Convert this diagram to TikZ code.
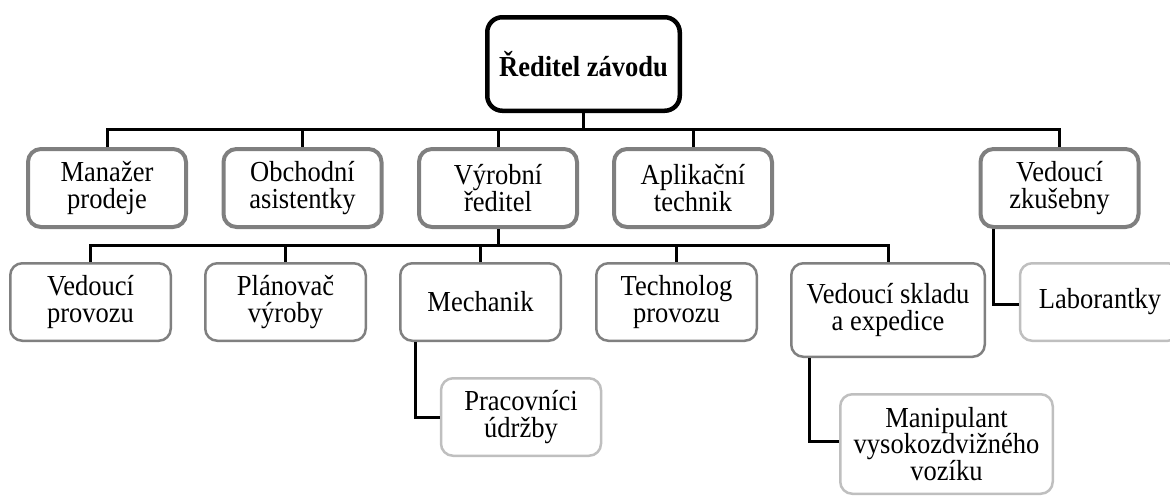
\documentclass[tikz,border=0pt]{standalone}
\usepackage{fontspec}
\setmainfont{Liberation Serif}[FakeStretch=0.915]
\definecolor{grayA}{HTML}{7F7F7F}
\definecolor{grayB}{HTML}{808080}
\definecolor{grayC}{HTML}{BFBFBF}
\tikzset{
  every node/.style={font=\fontsize{29}{26.5}\selectfont, align=center, inner sep=0pt},
  topbox/.style={draw=black, line width=4.5pt, rounded corners=15pt, minimum width=192.5pt, minimum height=93.5pt, font=\fontsize{29}{26.5}\selectfont\bfseries},
  lvone/.style={draw=grayA, line width=4pt, rounded corners=13pt, minimum width=158pt, minimum height=78pt},
  lvtwo/.style={draw=grayB, line width=2.5pt, rounded corners=12pt, minimum width=160.5pt, minimum height=77.5pt},
  lvthree/.style={draw=grayC, line width=2.5pt, rounded corners=12pt, minimum width=160pt, minimum height=77.5pt},
  conn/.style={draw=black, line width=3pt, line join=miter},
}
\begin{document}
\begin{tikzpicture}[x=1pt, y=-1pt]
\useasboundingbox (0,0) rectangle (1170,496);
% top
\node[topbox] (top) at (583.5,64) {Ředitel závodu};
% level 1
\node[lvone] (man) at (107,188) {Manažer\\prodeje};
\node[lvone] (obc) at (302.5,188) {Obchodní\\asistentky};
\node[lvone] (vyr) at (498,188) {Výrobní\\ředitel};
\node[lvone] (apl) at (693,188) {Aplikační\\technik};
\node[lvone] (zku) at (1059.5,188) {Vedoucí\\zkušebny};
% level 2
\node[lvtwo] (vp) at (90.5,302) {Vedoucí\\provozu};
\node[lvtwo] (pl) at (285.5,302) {Plánovač\\výroby};
\node[lvtwo] (mech) at (480.5,302) {Mechanik};
\node[lvtwo] (tech) at (676.5,302) {Technolog\\provozu};
\node[lvtwo, minimum width=193.5pt, minimum height=93.5pt] (skl) at (888,310) {Vedoucí skladu\\a expedice};
% level 3
\node[lvthree] (prac) at (521,417) {Pracovníci\\údržby};
\node[lvthree, minimum width=212.5pt, minimum height=99.5pt] (vzv) at (946.5,444) {Manipulant\\vysokozdvižného\\vozíku};
\node[lvthree] (lab) at (1100,302) {Laborantky};
% buses
\coordinate (b1) at (0,129);
\coordinate (b2) at (0,245);
\draw[conn] (top.south) -- (top.south |- b1);
\draw[conn] (man.north) -- (man.north |- b1) -- (zku.north |- b1) -- (zku.north);
\foreach \n in {obc,vyr,apl} \draw[conn] (\n.north |- b1) -- (\n.north);
\draw[conn] (vyr.south) -- (vyr.south |- b2);
\draw[conn] (vp.north) -- (vp.north |- b2) -- (skl.north |- b2) -- (skl.north);
\foreach \n in {pl,mech,tech} \draw[conn] (\n.north |- b2) -- (\n.north);
% elbows
\draw[conn] ([xshift=16pt]mech.south west) |- (prac.west);
\draw[conn] ([xshift=19pt]skl.south west) |- ([yshift=3pt]vzv.west);
\draw[conn] ([xshift=14.5pt]zku.south west) |- ([yshift=-2pt]lab.west);
\end{tikzpicture}
\end{document}
